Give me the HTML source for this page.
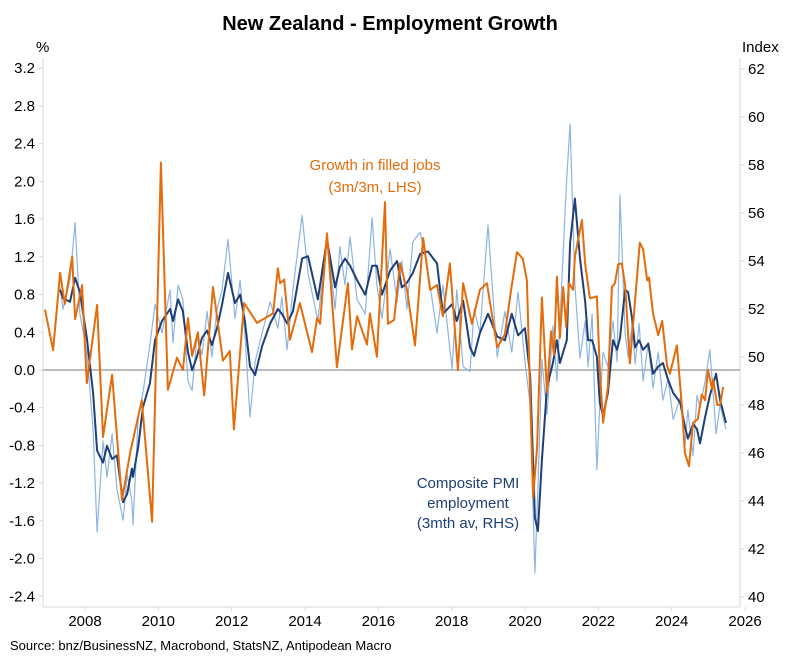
<!DOCTYPE html>
<html><head><meta charset="utf-8"><style>
html,body{margin:0;padding:0;background:#fff;}
svg{display:block;font-family:"Liberation Sans",Arial,sans-serif;}
</style></head><body>
<svg id="chart" width="787" height="661" viewBox="0 0 787 661">
<text x="390" y="30" text-anchor="middle" font-size="20" font-weight="bold" fill="#000">New Zealand - Employment Growth</text>
<text x="36" y="52" font-size="15" fill="#000">%</text>
<text x="742" y="52" font-size="15" fill="#000">Index</text>
<text x="375" y="170" text-anchor="middle" font-size="15" fill="#e46c0a">Growth in filled jobs</text>
<text x="375" y="192" text-anchor="middle" font-size="15" fill="#e46c0a">(3m/3m, LHS)</text>
<text x="468" y="488" text-anchor="middle" font-size="15" fill="#1f3f77">Composite PMI</text>
<text x="468" y="508" text-anchor="middle" font-size="15" fill="#1f3f77">employment</text>
<text x="468" y="528" text-anchor="middle" font-size="15" fill="#1f3f77">(3mth av, RHS)</text>
<text x="10" y="650" font-size="13" fill="#000">Source: bnz/BusinessNZ, Macrobond, StatsNZ, Antipodean Macro</text>
<g id="axes"></g><g id="series"></g>
</svg>
<script>
const leftTicks = [3.2,2.8,2.4,2.0,1.6,1.2,0.8,0.4,0.0,-0.4,-0.8,-1.2,-1.6,-2.0,-2.4];
const rightTicks = [62,60,58,56,54,52,50,48,46,44,42,40];
const xTicks = [2008,2010,2012,2014,2016,2018,2020,2022,2024,2026];

const jobsDates = [2006.91,2007.13,2007.32,2007.45,2007.65,2007.73,2007.92,2008.05,2008.33,2008.49,2008.74,2009.01,2009.23,2009.55,2009.83,2010.07,2010.26,2010.51,2010.67,2010.81,2010.92,2011.08,2011.25,2011.49,2011.76,2011.95,2012.06,2012.34,2012.69,2013.13,2013.26,2013.32,2013.43,2013.59,2013.86,2014.19,2014.33,2014.41,2014.6,2014.87,2015.17,2015.28,2015.42,2015.69,2015.77,2015.96,2016.18,2016.26,2016.43,2016.59,2016.78,2017.0,2017.22,2017.41,2017.6,2017.76,2017.95,2018.17,2018.31,2018.55,2018.77,2018.96,2019.24,2019.45,2019.62,2019.78,2019.94,2020.05,2020.22,2020.33,2020.46,2020.6,2020.71,2020.79,2020.87,2020.95,2021.04,2021.12,2021.2,2021.31,2021.36,2021.55,2021.64,2021.77,2021.96,2022.04,2022.13,2022.26,2022.37,2022.45,2022.54,2022.64,2022.73,2022.86,2023.0,2023.13,2023.22,2023.33,2023.38,2023.49,2023.63,2023.74,2023.87,2023.95,2024.14,2024.28,2024.36,2024.47,2024.58,2024.71,2024.82,2024.91,2024.99,2025.1,2025.13,2025.24,2025.32,2025.4];
const jobsVals = [0.64,0.21,1.03,0.7,1.2,0.54,0.9,-0.14,0.69,-0.71,-0.05,-1.38,-0.88,-0.32,-1.61,2.2,-0.21,0.13,0,0.55,0.15,0.4,-0.27,0.88,0.1,0.2,-0.63,0.71,0.5,0.6,1.08,0.92,0.96,0.32,0.71,0.19,0.55,0.49,1.45,0.03,0.92,0.22,0.57,0.27,0.6,0.14,1.78,0.49,0.53,1.13,0.85,0.26,1.4,0.85,0.9,0.57,1.13,0,0.92,0.49,0.85,0.92,0.24,0.38,0.85,1.25,1.18,0.95,-1.35,-0.82,0.77,-0.24,0.41,0.16,0.99,0.34,0.88,0.46,0.92,0.85,1.2,1.59,1.12,0.76,0.78,0,-0.56,-0.18,0.88,0.92,1.12,1.13,0.9,0.07,0.74,1.35,1.28,0.95,0.98,0.6,0.37,0.52,0.05,-0.04,0.26,-0.4,-0.88,-1.02,-0.56,-0.52,-0.26,-0.32,0,-0.2,-0.1,-0.37,-0.37,-0.18];

const pmiDates = [2007.32,2007.4,2007.59,2007.73,2007.86,2008.05,2008.22,2008.33,2008.49,2008.6,2008.74,2008.87,2009.04,2009.15,2009.28,2009.31,2009.45,2009.58,2009.77,2009.91,2010.1,2010.32,2010.4,2010.54,2010.67,2010.81,2010.92,2011.05,2011.19,2011.33,2011.46,2011.6,2011.74,2011.9,2012.09,2012.23,2012.36,2012.5,2012.64,2012.83,2013.05,2013.26,2013.37,2013.51,2013.67,2013.92,2014.08,2014.35,2014.6,2014.82,2014.95,2015.09,2015.23,2015.42,2015.64,2015.83,2015.96,2016.1,2016.32,2016.51,2016.64,2016.78,2016.94,2017.14,2017.35,2017.6,2017.76,2018.01,2018.14,2018.31,2018.5,2018.61,2018.77,2018.99,2019.24,2019.45,2019.64,2019.81,2020.0,2020.14,2020.27,2020.35,2020.46,2020.6,2020.76,2020.87,2020.95,2021.14,2021.23,2021.36,2021.5,2021.64,2021.72,2021.83,2021.96,2022.04,2022.13,2022.26,2022.4,2022.51,2022.59,2022.73,2022.81,2022.92,2023.0,2023.11,2023.22,2023.36,2023.49,2023.63,2023.76,2023.9,2024.04,2024.23,2024.36,2024.44,2024.58,2024.69,2024.77,2024.91,2025.04,2025.21,2025.32,2025.48];
const pmiAvgVals = [52.8,52.45,52.3,53.3,52.7,50.8,48.5,46.1,45.6,46.3,45.75,45.9,43.95,44.3,45.35,45.0,46.25,47.9,48.9,50.7,51.5,52.0,51.5,52.4,51.9,50.2,49.45,50.0,50.8,51.1,50.5,51.2,52.2,53.5,52.25,52.6,51.5,49.6,49.25,50.45,51.4,52.0,51.8,51.4,51.9,54.1,54.2,52.4,54.9,52.9,53.75,54.1,53.8,53.2,52.6,53.8,53.8,52.6,53.6,54.0,52.9,53.1,53.5,54.3,54.4,53.9,51.8,52.2,51.5,52.35,50.4,50.05,51.0,51.8,50.85,50.7,51.8,50.9,51.2,49.2,43.3,42.75,45.7,48.75,49.75,50.7,49.75,50.7,54.75,56.6,54.1,52.3,50.7,50.7,50.0,48.1,47.55,48.5,50.7,50.3,50.8,52.8,52.7,51.6,50.4,50.7,50.3,50.55,49.3,49.6,49.75,49.05,48.5,48.1,47.1,46.6,47.2,47.0,46.4,47.5,48.4,49.3,48.2,47.25];
const pmiMonthlyVals = [52.9,52.0,53.2,55.6,51.8,50.2,47.0,42.7,46.5,45.0,46.8,44.5,43.2,45.1,44.0,43.0,47.5,48.5,50.5,52.2,51.0,52.8,50.6,53.0,52.4,49.0,48.6,50.8,50.1,51.9,50.0,52.0,52.8,54.9,51.6,53.2,51.0,47.5,49.8,51.0,52.3,51.2,52.5,50.3,52.8,55.9,53.5,51.5,55.0,52.0,54.6,53.0,55.0,52.4,51.8,55.8,53.0,51.6,54.5,52.3,54.0,52.0,54.8,55.2,53.6,51.0,53.0,49.5,52.8,49.6,49.4,52.0,51.0,55.5,50.0,51.9,50.2,52.7,49.8,48.0,41.0,44.5,49.9,47.6,51.3,49.0,51.5,57.5,59.7,53.0,49.95,51.5,49.6,51.8,45.3,48.0,50.2,49.6,51.5,49.8,56.75,51.0,50.0,51.4,49.7,51.4,49.0,50.6,48.7,50.2,48.2,49.1,47.4,48.3,46.3,47.8,45.9,48.4,47.9,49.0,50.3,46.8,48.0,47.0];

const NS = "http://www.w3.org/2000/svg";
const PL = 43, PR = 740, PT = 58, PB = 607;
function xs(yr){ return 85 + (yr - 2008) * 36.67; }
function yl(v){ return 370 - v * 94.3; }
function yr(v){ return 357 - (v - 50) * 24; }
function mk(tag, attrs, parent){ const e = document.createElementNS(NS, tag); for (const k in attrs) e.setAttribute(k, attrs[k]); parent.appendChild(e); return e; }

const axes = document.getElementById('axes');
const series = document.getElementById('series');
const la = mk('line',{x1:PL,y1:PT,x2:PL,y2:PB,stroke:'#d9d9d9','stroke-width':1},axes);


const ra = mk('line',{x1:PR,y1:PT,x2:PR,y2:PB,stroke:'#d9d9d9','stroke-width':1},axes);


const ba = mk('line',{x1:PL,y1:PB,x2:PR,y2:PB,stroke:'#d9d9d9','stroke-width':1},axes);


const zl = mk('line',{x1:PL,y1:yl(0),x2:PR,y2:yl(0),stroke:'#a6a6a6','stroke-width':1.5},axes);



leftTicks.forEach(v=>{
  const t = mk('line',{x1:PL-4,y1:yl(v),x2:PL,y2:yl(v),stroke:'#d9d9d9'},axes);
  
  
  const l = mk('text',{x:35,y:yl(v)+5,'text-anchor':'end','font-size':15,fill:'#000'},axes);
  l.textContent = v.toFixed(1);
  
  
});
rightTicks.forEach(v=>{
  const t = mk('line',{x1:PR,y1:yr(v),x2:PR+4,y2:yr(v),stroke:'#d9d9d9'},axes);
  
  
  const l = mk('text',{x:748,y:yr(v)+5,'font-size':15,fill:'#000'},axes);
  l.textContent = v;
  
  
});
xTicks.forEach(v=>{
  const t = mk('line',{x1:xs(v),y1:PB,x2:xs(v),y2:PB+4,stroke:'#d9d9d9'},axes);
  
  
  const l = mk('text',{x:xs(v),y:626,'text-anchor':'middle','font-size':15,fill:'#000'},axes);
  l.textContent = v;
  
  
});

function path(dates, vals, yf){ return dates.map((d,i)=>(i?'L':'M')+xs(d).toFixed(1)+' '+yf(vals[i]).toFixed(1)).join(' '); }
const p1 = mk('path',{d:path(pmiDates,pmiMonthlyVals,yr),fill:'none',stroke:'#8db4e2','stroke-width':1.2,'stroke-linejoin':'round'},series);


const p2 = mk('path',{d:path(pmiDates,pmiAvgVals,yr),fill:'none',stroke:'#1f3f77','stroke-width':2,'stroke-linejoin':'round'},series);


const p3 = mk('path',{d:path(jobsDates,jobsVals,yl),fill:'none',stroke:'#e46c0a','stroke-width':2,'stroke-linejoin':'round'},series);


</script>
</body></html>
